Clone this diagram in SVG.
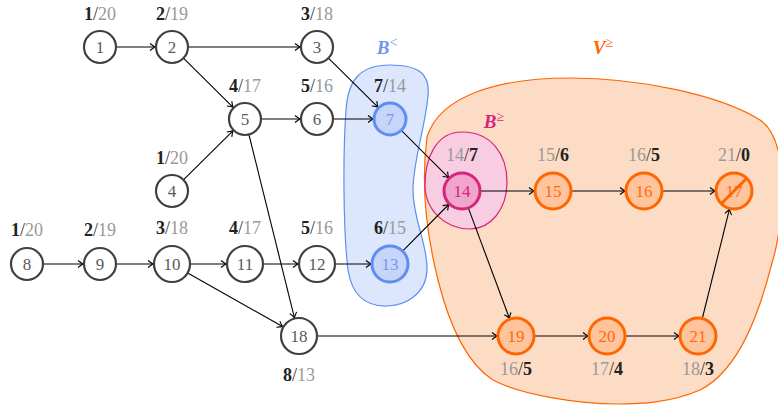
<svg xmlns="http://www.w3.org/2000/svg" width="778" height="407" viewBox="0 0 778 407">
<defs>
<marker id="ah" markerWidth="10" markerHeight="10" viewBox="-6 -5 8 10" refX="0" refY="0" orient="auto" markerUnits="userSpaceOnUse">
<path d="M-5,-3.5 Q-1.5,-0.8 0,0 Q-1.5,0.8 -5,3.5" fill="none" stroke="#000" stroke-width="1.1"/>
</marker>
<style>
.e{stroke:#000;stroke-width:1.1;fill:none;marker-end:url(#ah)}
.n circle{fill:#fff;stroke:#404040;stroke-width:2.2}
.n text{fill:#5a5a5a;font-family:"Liberation Serif",serif;font-size:17px;text-anchor:middle;dominant-baseline:central}
.o circle{fill:#ffc49c;stroke:#ff6600;stroke-width:3}
.o text{fill:#ff6a10}
.bl circle{fill:#c6d6fb;stroke:#5f8ef0;stroke-width:3}
.bl text{fill:#7596ee}
.pk circle{fill:#f0a6cb;stroke:#d7247e;stroke-width:3}
.pk text{fill:#d7247e}
.l{font-family:"Liberation Serif",serif;font-size:18px;text-anchor:middle;fill:#333}
.b{font-weight:bold;fill:#222}
.g{fill:#999}
.set{font-family:"Liberation Serif",serif;font-size:19px;font-weight:bold;font-style:italic;text-anchor:middle}
.sup{font-size:14px;font-style:normal;font-weight:normal}
</style>
</defs>
<g id="blobs">
<path id="Vge" d="M427,137 C440,95 500,78 570,78 C640,78 720,95 760,120 C790,140 785,220 772,263 C760,310 740,370 700,390 C670,403 640,404 617,404 C580,404 520,395 493,380 C465,362 448,320 438,280 C428,240 420,190 427,137 Z" fill="#fddcc6" stroke="#ff6600" stroke-width="1.2"/>
<path id="Blt" d="M390,65 C420,65 430,75 428,95 C426,125 413,160 413,190 C413,220 428,245 427,270 C426,295 405,305 388,306 C365,307 352,295 348,270 C343,230 343,150 346,110 C348,80 360,65 390,65 Z" fill="#dce6fc" stroke="#5f8ef0" stroke-width="1.2"/>
<path id="Bge" d="M462,132 C492,132 507,155 507,182 C507,210 490,229 470,229 C445,229 425,210 425,185 C425,160 435,132 462,132 Z" fill="#f8cde1" stroke="#d7247e" stroke-width="1.2"/>
</g>
<g id="setlabels">
<text class="set" x="387" y="54" fill="#6f95f3">B<tspan class="sup" dy="-7">&lt;</tspan></text>
<text class="set" x="494" y="128" fill="#d7247e">B<tspan class="sup" dy="-7">≥</tspan></text>
<text class="set" x="603" y="54" fill="#ff6600">V<tspan class="sup" dy="-7">≥</tspan></text>
</g>
<g id="edges">
<line class="e" x1="116" y1="47" x2="155" y2="47"/>
<line class="e" x1="188" y1="47" x2="300" y2="47"/>
<line class="e" x1="183.4" y1="58.2" x2="232.9" y2="107.1"/>
<line class="e" x1="328.4" y1="58.2" x2="377.9" y2="107.1"/>
<line class="e" x1="183.4" y1="179.8" x2="232.9" y2="130.9"/>
<line class="e" x1="261" y1="119" x2="300" y2="119"/>
<line class="e" x1="333" y1="119" x2="373" y2="119"/>
<line class="e" x1="248.9" y1="134.5" x2="294.4" y2="317.6"/>
<line class="e" x1="401.3" y1="130.3" x2="448.6" y2="177.6"/>
<line class="e" x1="402.6" y1="251.2" x2="448.7" y2="204.5"/>
<line class="e" x1="43" y1="264" x2="83" y2="264"/>
<line class="e" x1="116" y1="264" x2="153" y2="264"/>
<line class="e" x1="190" y1="264" x2="226" y2="264"/>
<line class="e" x1="263" y1="264" x2="298" y2="264"/>
<line class="e" x1="335" y1="264" x2="371" y2="264"/>
<line class="e" x1="187.7" y1="272.9" x2="282.5" y2="326.6"/>
<line class="e" x1="317" y1="336" x2="497" y2="336"/>
<line class="e" x1="480" y1="191" x2="534" y2="191"/>
<line class="e" x1="571" y1="191" x2="625" y2="191"/>
<line class="e" x1="662" y1="191" x2="715" y2="191"/>
<line class="e" x1="468.3" y1="207.9" x2="509.4" y2="318.2"/>
<line class="e" x1="534" y1="336" x2="588" y2="336"/>
<line class="e" x1="625" y1="336" x2="679" y2="336"/>
<line class="e" x1="702.3" y1="318.5" x2="729.4" y2="209.4"/>
</g>
<g id="n1" class="n"><circle cx="100" cy="47" r="16"/><text x="100" y="47">1</text></g>
<g id="n2" class="n"><circle cx="172" cy="47" r="16"/><text x="172" y="47">2</text></g>
<g id="n3" class="n"><circle cx="317" cy="47" r="16"/><text x="317" y="47">3</text></g>
<g id="n4" class="n"><circle cx="172" cy="191" r="16"/><text x="172" y="191">4</text></g>
<g id="n5" class="n"><circle cx="245" cy="119" r="16"/><text x="245" y="119">5</text></g>
<g id="n6" class="n"><circle cx="317" cy="119" r="16"/><text x="317" y="119">6</text></g>
<g id="n7" class="n bl"><circle cx="390" cy="119" r="16"/><text x="390" y="119">7</text></g>
<g id="n8" class="n"><circle cx="27" cy="264" r="16"/><text x="27" y="264">8</text></g>
<g id="n9" class="n"><circle cx="100" cy="264" r="16"/><text x="100" y="264">9</text></g>
<g id="n10" class="n"><circle cx="172" cy="264" r="18"/><text x="172" y="264">10</text></g>
<g id="n11" class="n"><circle cx="245" cy="264" r="18"/><text x="245" y="264">11</text></g>
<g id="n12" class="n"><circle cx="317" cy="264" r="18"/><text x="317" y="264">12</text></g>
<g id="n13" class="n bl"><circle cx="390" cy="264" r="18"/><text x="390" y="264">13</text></g>
<g id="n14" class="n pk"><circle cx="462" cy="191" r="18"/><text x="462" y="191">14</text></g>
<g id="n15" class="n o"><circle cx="553" cy="191" r="18"/><text x="553" y="191">15</text></g>
<g id="n16" class="n o"><circle cx="644" cy="191" r="18"/><text x="644" y="191">16</text></g>
<g id="n17" class="n o"><circle cx="734" cy="191" r="18"/><text x="734" y="191">17</text><line x1="721.5" y1="203.5" x2="746.5" y2="178.5" stroke="#ff6600" stroke-width="3"/></g>
<g id="n18" class="n"><circle cx="299" cy="336" r="18"/><text x="299" y="336">18</text></g>
<g id="n19" class="n o"><circle cx="516" cy="336" r="18"/><text x="516" y="336">19</text></g>
<g id="n20" class="n o"><circle cx="607" cy="336" r="18"/><text x="607" y="336">20</text></g>
<g id="n21" class="n o"><circle cx="698" cy="336" r="18"/><text x="698" y="336">21</text></g>
<g id="labels">
<text class="l" x="100" y="20"><tspan class="b">1</tspan>/<tspan class="g">20</tspan></text>
<text class="l" x="172" y="20"><tspan class="b">2</tspan>/<tspan class="g">19</tspan></text>
<text class="l" x="317" y="20"><tspan class="b">3</tspan>/<tspan class="g">18</tspan></text>
<text class="l" x="245" y="92"><tspan class="b">4</tspan>/<tspan class="g">17</tspan></text>
<text class="l" x="317" y="92"><tspan class="b">5</tspan>/<tspan class="g">16</tspan></text>
<text class="l" x="390" y="92"><tspan class="b">7</tspan>/<tspan class="g">14</tspan></text>
<text class="l" x="172" y="164"><tspan class="b">1</tspan>/<tspan class="g">20</tspan></text>
<text class="l" x="462" y="161"><tspan class="g">14</tspan>/<tspan class="b">7</tspan></text>
<text class="l" x="553" y="161"><tspan class="g">15</tspan>/<tspan class="b">6</tspan></text>
<text class="l" x="644" y="161"><tspan class="g">16</tspan>/<tspan class="b">5</tspan></text>
<text class="l" x="734" y="161"><tspan class="g">21</tspan>/<tspan class="b">0</tspan></text>
<text class="l" x="27" y="236"><tspan class="b">1</tspan>/<tspan class="g">20</tspan></text>
<text class="l" x="100" y="236"><tspan class="b">2</tspan>/<tspan class="g">19</tspan></text>
<text class="l" x="172" y="234"><tspan class="b">3</tspan>/<tspan class="g">18</tspan></text>
<text class="l" x="245" y="234"><tspan class="b">4</tspan>/<tspan class="g">17</tspan></text>
<text class="l" x="317" y="234"><tspan class="b">5</tspan>/<tspan class="g">16</tspan></text>
<text class="l" x="390" y="234"><tspan class="b">6</tspan>/<tspan class="g">15</tspan></text>
<text class="l" x="299" y="381"><tspan class="b">8</tspan>/<tspan class="g">13</tspan></text>
<text class="l" x="516" y="375"><tspan class="g">16</tspan>/<tspan class="b">5</tspan></text>
<text class="l" x="607" y="375"><tspan class="g">17</tspan>/<tspan class="b">4</tspan></text>
<text class="l" x="698" y="375"><tspan class="g">18</tspan>/<tspan class="b">3</tspan></text>
</g>
</svg>
